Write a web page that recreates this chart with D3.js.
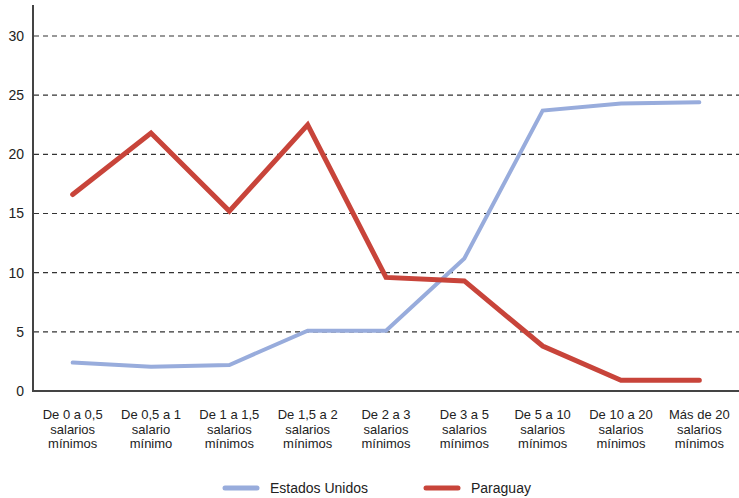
<!DOCTYPE html>
<html><head><meta charset="utf-8">
<script src="https://cdn.jsdelivr.net/npm/d3@7"></script>
<style>body{margin:0;background:#fff;font-family:"Liberation Sans",Arial,sans-serif;}</style>
</head><body><svg id="c" width="739" height="498"></svg>
<script>
const categories = [
  ["De 0 a 0,5","salarios","mínimos"],
  ["De 0,5 a 1","salario","mínimo"],
  ["De 1 a 1,5","salarios","mínimos"],
  ["De 1,5 a 2","salarios","mínimos"],
  ["De 2 a 3","salarios","mínimos"],
  ["De 3 a 5","salarios","mínimos"],
  ["De 5 a 10","salarios","mínimos"],
  ["De 10 a 20","salarios","mínimos"],
  ["Más de 20","salarios","mínimos"]
];
const estadosUnidos = [2.4, 2.05, 2.2, 5.1, 5.1, 11.2, 23.7, 24.3, 24.4];
const paraguay = [16.6, 21.8, 15.2, 22.5, 9.6, 9.3, 3.8, 0.9, 0.9];
const yTicks = [0, 5, 10, 15, 20, 25, 30];
const seriesNames = ["Estados Unidos", "Paraguay"];
const colors = ["#98acdc", "#c8443a"];

const svg = d3.select("#c");
const x = d3.scaleBand().domain(d3.range(categories.length)).range([33.5, 738.5]);
const y = d3.scaleLinear().domain([0, 30]).range([391, 36]);

// gridlines
svg.append("g").selectAll("line").data(yTicks.filter(t => t > 0)).join("line")
  .attr("x1", 34).attr("x2", 739)
  .attr("y1", d => y(d)).attr("y2", d => y(d))
  .attr("stroke", "#333").attr("stroke-width", 1.2).attr("stroke-dasharray", "5,4");

// y tick labels
svg.append("g").selectAll("text").data(yTicks).join("text")
  .attr("x", 24).attr("y", d => y(d)).attr("dy", "0.35em")
  .attr("text-anchor", "end").attr("font-size", 14).attr("fill", "#222")
  .text(d => d);

// axes lines
svg.append("line").attr("x1", 33).attr("x2", 33).attr("y1", 5).attr("y2", 392)
  .attr("stroke", "#444").attr("stroke-width", 2);
svg.append("line").attr("x1", 32).attr("x2", 739).attr("y1", y(0)).attr("y2", y(0))
  .attr("stroke", "#444").attr("stroke-width", 2);

// x labels
const xl = svg.append("g").selectAll("text").data(categories).join("text")
  .attr("text-anchor", "middle").attr("font-size", 13).attr("fill", "#222")
  .attr("transform", (d, i) => `translate(${x(i) + x.bandwidth() / 2},${419})`);
xl.selectAll("tspan").data(d => d).join("tspan")
  .attr("x", 0).attr("dy", (d, i) => i === 0 ? 0 : 14.5).text(d => d);

// lines
const line = d3.line().x((d, i) => x(i) + x.bandwidth() / 2).y(d => y(d));
[estadosUnidos, paraguay].forEach((s, k) => {
  svg.append("path").datum(s).attr("d", line).attr("fill", "none")
    .attr("stroke", colors[k]).attr("stroke-width", k === 0 ? 4 : 5)
    .attr("stroke-linecap", "round").attr("stroke-linejoin", "miter");
});

// legend
const legX = [225, 426];
seriesNames.forEach((n, k) => {
  svg.append("line").attr("x1", legX[k]).attr("x2", legX[k] + 32).attr("y1", 488).attr("y2", 488)
    .attr("stroke", colors[k]).attr("stroke-width", 5).attr("stroke-linecap", "round");
  svg.append("text").attr("x", legX[k] + 45).attr("y", 488).attr("dy", "0.35em")
    .attr("font-size", 14).attr("fill", "#222").text(n);
});
</script></body></html>
